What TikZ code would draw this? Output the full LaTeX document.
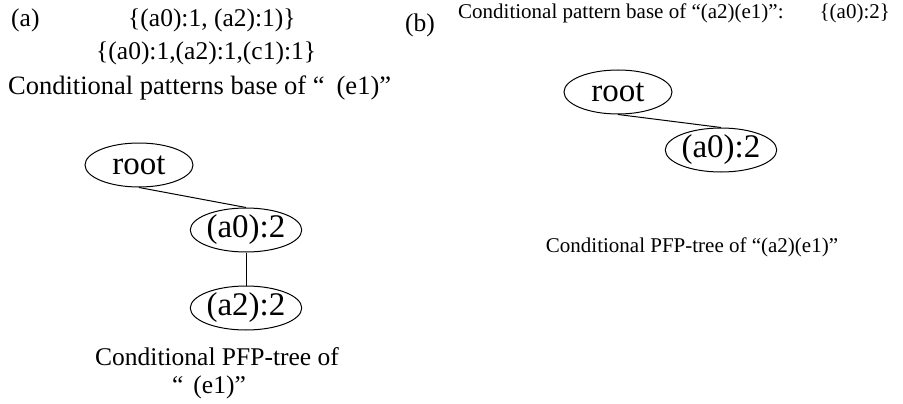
\documentclass[tikz,border=0pt]{standalone}
\usepackage{fontspec}
\setmainfont{Liberation Serif}
\usetikzlibrary{shapes.geometric}
\begin{document}
\begin{tikzpicture}[x=1pt,y=-1pt,
  treenode/.style={draw, ellipse, minimum width=108pt, minimum height=44pt,
    inner sep=0pt, line width=1pt, font=\fontsize{33}{33}\selectfont},
  txt/.style={inner sep=0pt, anchor=west, font=\fontsize{25.5}{30}\selectfont},
  hdr/.style={inner sep=0pt, anchor=west, font=\fontsize{21}{25}\selectfont},
  captext/.style={inner sep=0pt, font=\fontsize{25.5}{30}\selectfont},
  link/.style={line width=1pt}]
\useasboundingbox (0,0) rectangle (903,404);

% (a) conditional pattern base of (e1)
\node[txt] (la) at (11,20) {(a)};
\node[txt] (base1) at (128,20) {\{(a0):1, (a2):1)\}};
\node[txt] (base2) at (96,53) {\{(a0):1,(a2):1,(c1):1\}};
\node[txt, font=\fontsize{26.5}{30}\selectfont] (basecap) at (8,88)
  {Conditional patterns base of “\hspace{12pt}(e1)”};

% (a) conditional PFP-tree
\node[treenode] (rootA) at (139,165) {root};
\node[treenode] (a0A) at (246,230) {(a0):2};
\node[treenode] (a2A) at (246,308) {(a2):2};
\draw[link] (rootA.south) -- (a0A.north);
\draw[link] (a0A.south) -- (a2A.north);
\node[captext] (treecapA1) at (217,357) {Conditional PFP-tree of};
\node[captext] (treecapA2) at (209,387) {“\hspace{10pt}(e1)”};

% (b) conditional pattern base and tree of (a2)(e1)
\node[txt] (lb) at (405,25) {(b)};
\node[hdr] (baseB) at (458,13) {Conditional pattern base of “(a2)(e1)”:\hspace{36pt}\{(a0):2\}};
\node[treenode] (rootB) at (618,92) {root};
\node[treenode] (a0B) at (721,150) {(a0):2};
\draw[link] (rootB.south) -- (a0B.north);
\node[hdr, anchor=center] (treecapB) at (692,247) {Conditional PFP-tree of “(a2)(e1)”};
\end{tikzpicture}
\end{document}
